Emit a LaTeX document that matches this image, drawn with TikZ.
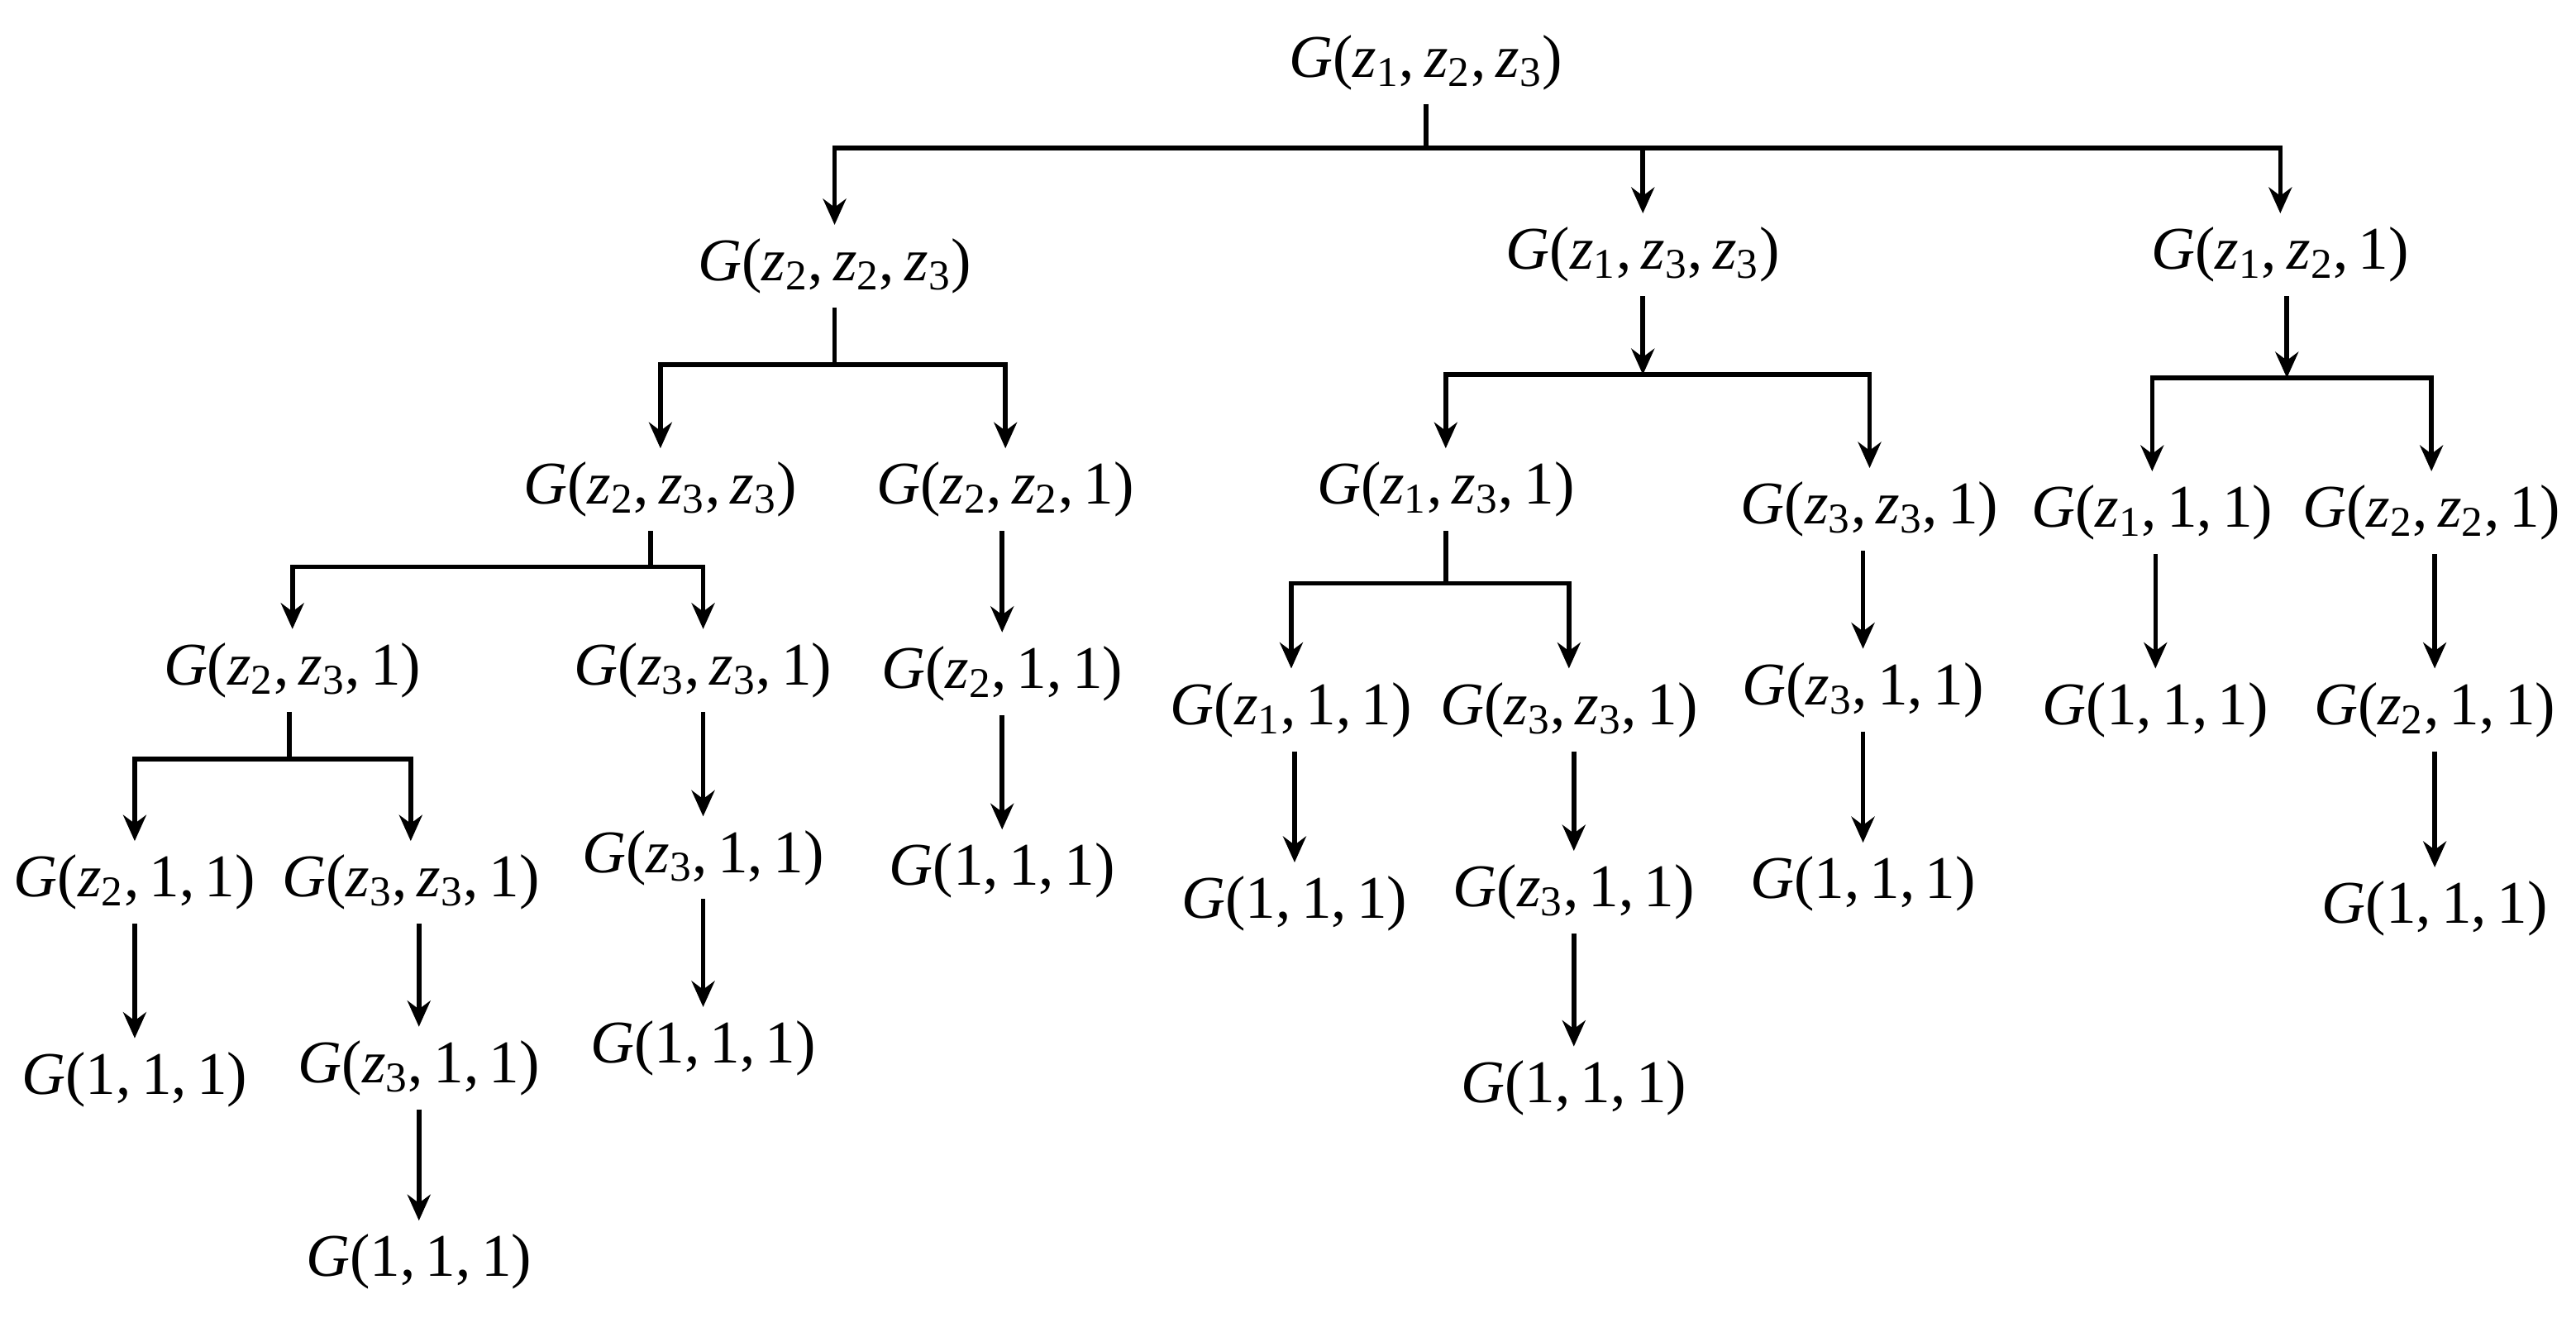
\documentclass[tikz,border=0pt]{standalone}
\usepackage{fontspec}
\setmainfont{Liberation Serif}
\usetikzlibrary{arrows.meta}
\newcommand{\zz}[1]{\textit{z}\textsubscript{#1}}
\newcommand{\GG}[3]{\textit{G}(#1,\,#2,\,#3)}
\begin{document}
\begin{tikzpicture}[x=0.02cm,y=-0.02cm,
  lab/.style={inner sep=4pt,font=\fontsize{21}{25}\selectfont},
  every path/.style={line width=1.6pt},
  arr/.style={-{Stealth[length=9pt,width=8pt]}}]
\useasboundingbox (0,0) rectangle (1568,802);
\node[lab] (R) at (868,38) {\GG{\zz1}{\zz2}{\zz3}};
\node[lab] (A) at (508,162) {\GG{\zz2}{\zz2}{\zz3}};
\node[lab] (B) at (1000,155) {\GG{\zz1}{\zz3}{\zz3}};
\node[lab] (C) at (1388,155) {\GG{\zz1}{\zz2}{1}};
\node[lab] (A1) at (402,298) {\GG{\zz2}{\zz3}{\zz3}};
\node[lab] (A2) at (612,298) {\GG{\zz2}{\zz2}{1}};
\node[lab] (A1a) at (178,408) {\GG{\zz2}{\zz3}{1}};
\node[lab] (A1b) at (428,408) {\GG{\zz3}{\zz3}{1}};
\node[lab] (A1a1) at (82,537) {\GG{\zz2}{1}{1}};
\node[lab] (A1a2) at (250,537) {\GG{\zz3}{\zz3}{1}};
\node[lab] (A1a1x) at (82,657) {\GG{1}{1}{1}};
\node[lab] (A1a2x) at (255,650) {\GG{\zz3}{1}{1}};
\node[lab] (A1a2y) at (255,768) {\GG{1}{1}{1}};
\node[lab] (A1bx) at (428,522) {\GG{\zz3}{1}{1}};
\node[lab] (A1by) at (428,638) {\GG{1}{1}{1}};
\node[lab] (A2x) at (610,410) {\GG{\zz2}{1}{1}};
\node[lab] (A2y) at (610,530) {\GG{1}{1}{1}};
\node[lab] (B1) at (880,298) {\GG{\zz1}{\zz3}{1}};
\node[lab] (B2) at (1138,310) {\GG{\zz3}{\zz3}{1}};
\node[lab] (B1a) at (786,432) {\GG{\zz1}{1}{1}};
\node[lab] (B1b) at (955,432) {\GG{\zz3}{\zz3}{1}};
\node[lab] (B1ax) at (788,550) {\GG{1}{1}{1}};
\node[lab] (B1bx) at (958,543) {\GG{\zz3}{1}{1}};
\node[lab] (B1by) at (958,662) {\GG{1}{1}{1}};
\node[lab] (B2x) at (1134,420) {\GG{\zz3}{1}{1}};
\node[lab] (B2y) at (1134,538) {\GG{1}{1}{1}};
\node[lab] (C1) at (1310,312) {\GG{\zz1}{1}{1}};
\node[lab] (C2) at (1480,312) {\GG{\zz2}{\zz2}{1}};
\node[lab] (C1x) at (1312,432) {\GG{1}{1}{1}};
\node[lab] (C2x) at (1482,432) {\GG{\zz2}{1}{1}};
\node[lab] (C2y) at (1482,553) {\GG{1}{1}{1}};
% bars
\coordinate (Rb) at (868,90);
\draw (R) -- (Rb);
\draw[arr] (Rb) -| (A); \draw[arr] (Rb) -| (B); \draw[arr] (Rb) -| (C);
\coordinate (Ab) at (508,222);
\draw (A) -- (Ab); \draw[arr] (Ab) -| (A1); \draw[arr] (Ab) -| (A2);
\coordinate (A1bar) at (396,345);
\draw (A1.south -| A1bar) -- (A1bar); \draw[arr] (A1bar) -| (A1a); \draw[arr] (A1bar) -| (A1b);
\coordinate (A1abar) at (176,462);
\draw (A1a.south -| A1abar) -- (A1abar); \draw[arr] (A1abar) -| (A1a1); \draw[arr] (A1abar) -| (A1a2);
\coordinate (Bb) at (1000,228);
\draw[arr] (B) -- (Bb); \draw[arr] (Bb) -| (B1); \draw[arr] (Bb) -| (B2);
\coordinate (B1bar) at (880,355);
\draw (B1) -- (B1bar); \draw[arr] (B1bar) -| (B1a); \draw[arr] (B1bar) -| (B1b);
\coordinate (Cb) at (1392,230);
\draw[arr] (C.south -| Cb) -- (Cb); \draw[arr] (Cb) -| (C1); \draw[arr] (Cb) -| (C2);
% chains
\draw[arr] (A1a1) -- (A1a1x);
\draw[arr] (A1a2.south -| A1a2x) -- (A1a2x); \draw[arr] (A1a2x) -- (A1a2y);
\draw[arr] (A1b) -- (A1bx); \draw[arr] (A1bx) -- (A1by);
\draw[arr] (A2.south -| A2x) -- (A2x); \draw[arr] (A2x) -- (A2y);
\draw[arr] (B1a.south -| B1ax) -- (B1ax);
\draw[arr] (B1b.south -| B1bx) -- (B1bx); \draw[arr] (B1bx) -- (B1by);
\draw[arr] (B2.south -| B2x) -- (B2x); \draw[arr] (B2x) -- (B2y);
\draw[arr] (C1.south -| C1x) -- (C1x);
\draw[arr] (C2.south -| C2x) -- (C2x); \draw[arr] (C2x) -- (C2y);
\end{tikzpicture}
\end{document}
